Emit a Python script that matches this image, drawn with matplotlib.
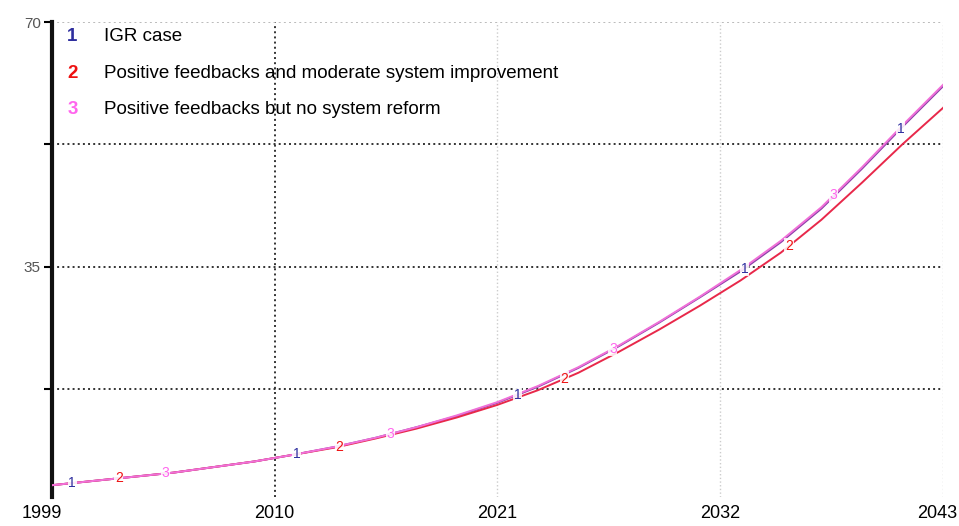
import numpy as np
import matplotlib
matplotlib.use("Agg")
import matplotlib.pyplot as plt
import matplotlib.transforms as mtransforms

plt.rcParams['font.family'] = ['Liberation Sans', 'DejaVu Sans']

# data
years = [1999, 2001, 2003, 2005, 2007, 2009, 2011, 2013, 2015, 2017, 2019, 2021,
         2023, 2025, 2027, 2029, 2031, 2033, 2035, 2037, 2039, 2041, 2043]
igr_case = [3.7, 4.3, 4.9, 5.5, 6.3, 7.1, 8.1, 9.2, 10.5, 12.0, 13.6, 15.5,
            17.8, 20.5, 23.6, 27.0, 30.6, 34.3, 38.5, 43.3, 49.0, 55.0, 60.8]
moderate_reform = [3.7, 4.3, 4.9, 5.5, 6.3, 7.1, 8.1, 9.1, 10.4, 11.8, 13.4, 15.2,
                   17.3, 19.8, 22.8, 26.0, 29.4, 33.0, 37.0, 41.7, 47.0, 52.5, 57.7]
no_reform = [3.7, 4.3, 4.9, 5.5, 6.3, 7.1, 8.1, 9.2, 10.5, 12.0, 13.7, 15.6,
             17.9, 20.6, 23.7, 27.1, 30.7, 34.5, 38.7, 43.5, 49.2, 55.2, 61.0]

series_names = ["IGR case",
                "Positive feedbacks and moderate system improvement",
                "Positive feedbacks but no system reform"]
series_ids = ["1", "2", "3"]
line_colors = ["#8a3fa8", "#e8284a", "#f070d8"]
id_colors = ["#2e2e9e", "#ee1111", "#ff66ee"]

# years where the curve numbers sit
label_years = [[2000.0, 2011.1, 2022.0, 2033.2, 2040.9],
               [2002.3, 2013.2, 2024.3, 2035.4],
               [2004.6, 2015.7, 2026.7, 2037.6]]

xticks = [1999, 2010, 2021, 2032, 2043]
yticks = [17.5, 35, 52.5, 70]
ytick_labels = ["", "35", "", "70"]

fig = plt.figure(figsize=(9.59, 5.26), dpi=100)
ax = fig.add_axes([0.0542, 0.055, 0.929, 0.903])

all_series = [igr_case, moderate_reform, no_reform]
for vals, col, idc, num, lab_x in zip(all_series, line_colors, id_colors,
                                      series_ids, label_years):
    ax.plot(years, vals, color=col, lw=1.4, zorder=3)
    for lx in lab_x:
        ly = np.interp(lx, years, vals)
        ax.text(lx, ly, num, color=idc, fontsize=10, ha="center", va="center",
                zorder=4, bbox=dict(facecolor="white", edgecolor="none",
                                    pad=0.5, alpha=0.85))

ax.set_xlim(1999, 2043)
ax.set_ylim(2, 70)
ax.set_xticks(xticks)
ax.set_xticklabels([str(x) for x in xticks], fontsize=13)
ax.set_yticks(yticks)
ax.set_yticklabels(ytick_labels, fontsize=11, color="#555555")
ax.tick_params(axis="x", length=0, pad=6)
ax.tick_params(axis="y", length=6, width=1.5, direction="out", pad=2)

# keep the first and last year labels inside the figure
xlabels = ax.get_xticklabels()
xlabels[0].set_transform(xlabels[0].get_transform() +
                         mtransforms.ScaledTranslation(-0.1, 0, fig.dpi_scale_trans))
xlabels[-1].set_horizontalalignment("right")
xlabels[-1].set_transform(xlabels[-1].get_transform() +
                          mtransforms.ScaledTranslation(0.14, 0, fig.dpi_scale_trans))

for s in ["top", "right", "bottom"]:
    ax.spines[s].set_visible(False)
ax.spines["left"].set_linewidth(3)
ax.spines["left"].set_color("#111111")

ax.grid(True, axis="y", linestyle=":", color="#333333", lw=1.4)
ax.grid(True, axis="x", linestyle=":", color="#333333", lw=1.4)
xgl = ax.get_xgridlines()
for i, gl in enumerate(xgl):
    if i in (2, 3, 4):
        gl.set_color("#cccccc")
        gl.set_linewidth(1.0)
ygl = ax.get_ygridlines()
ygl[3].set_color("#bbbbbb")
ax.set_axisbelow(True)

# legend: coloured number + description
row_y = [0.965, 0.895, 0.826]
for num, idc, name, ry in zip(series_ids, id_colors, series_names, row_y):
    fig.text(0.070, ry - 0.035, num, color=idc, fontsize=13.5,
             fontweight="bold", ha="left", va="center")
    fig.text(0.108, ry - 0.035, name, color="black", fontsize=13.5,
             ha="left", va="center")

fig.savefig("out.png", dpi=100)
